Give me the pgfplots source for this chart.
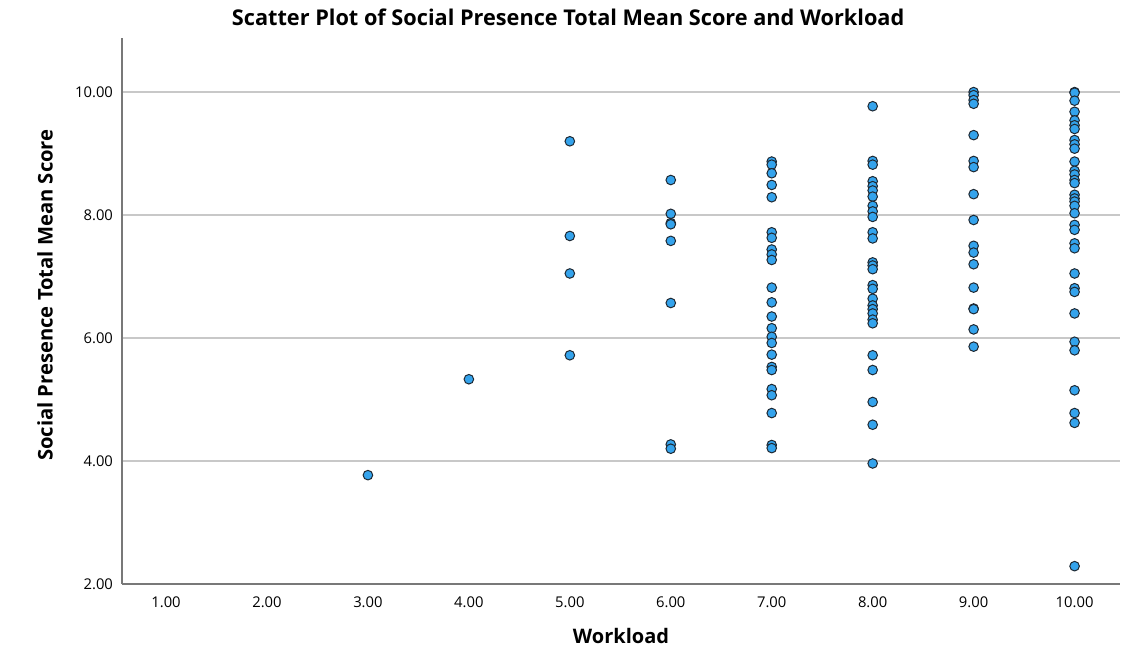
\documentclass[border=0pt]{standalone}
\usepackage{pgfplots}
\pgfplotsset{compat=1.18}
\usepackage{fontspec}
\setmainfont{Open Sans}
\definecolor{ptfill}{RGB}{52,163,236}
\definecolor{ptedge}{RGB}{30,40,50}
\definecolor{gridc}{RGB}{200,200,200}
\definecolor{axisc}{RGB}{120,120,120}

\begin{document}
\begin{tikzpicture}
\useasboundingbox (0,0) rectangle (560.5pt,328pt);
\begin{axis}[
  at={(61pt,36pt)}, anchor=south west,
  scale only axis, width=499pt, height=273pt,
  xmin=0.564, xmax=10.45, ymin=2, ymax=10.88,
  axis x line*=bottom, axis y line*=left,
  axis line style={axisc, line width=0.6pt, -},
  xtick={1,...,10}, ytick={2,4,6,8,10},
  major tick length=0pt,
  ymajorgrids, grid style={gridc, line width=0.6pt},
  xticklabel style={font=\fontsize{7.4}{8}\selectfont, yshift=-3pt},
  yticklabel style={font=\fontsize{7.4}{8}\selectfont, xshift=-1pt},
  /pgf/number format/assume math mode=true,
  /pgf/number format/.cd, fixed, fixed zerofill, precision=2, /pgfplots/.cd,
  title={Scatter Plot of Social Presence Total Mean Score and Workload},
  title style={font=\fontsize{10.85}{12}\selectfont\bfseries, at={(axis description cs:0.447,1.0366)}, anchor=center, yshift=-5.5pt},
  xlabel={Workload},
  xlabel style={font=\fontsize{10}{12}\selectfont\bfseries, at={(axis description cs:0.5,-0.0952)}, anchor=center},
  ylabel={Social Presence Total Mean Score},
  ylabel style={font=\fontsize{10.1}{12}\selectfont\bfseries, at={(axis description cs:-0.0772,0.529)}, anchor=center, rotate=0},
  clip=false,
]
\addplot[only marks, mark=*, mark size=2.4pt,
  mark options={fill=ptfill, draw=ptedge, line width=0.5pt}]
table {
x y
3 3.77
4 5.33
5 9.20
5 7.66
5 7.05
5 5.72
6 8.57
6 8.02
6 7.87
6 7.85
6 7.58
6 6.57
6 4.27
6 4.20
7 8.87
7 8.82
7 8.68
7 8.49
7 8.29
7 7.72
7 7.63
7 7.44
7 7.36
7 7.27
7 6.82
7 6.58
7 6.35
7 6.16
7 6.02
7 5.92
7 5.73
7 5.53
7 5.48
7 5.17
7 5.07
7 4.78
7 4.26
7 4.21
8 9.77
8 8.88
8 8.82
8 8.55
8 8.47
8 8.40
8 8.30
8 8.15
8 8.06
8 7.97
8 7.72
8 7.62
8 7.23
8 7.18
8 7.12
8 6.86
8 6.80
8 6.64
8 6.53
8 6.47
8 6.40
8 6.30
8 6.24
8 5.72
8 5.48
8 4.96
8 4.59
8 3.96
9 10.00
9 9.95
9 9.87
9 9.81
9 9.30
9 8.88
9 8.78
9 8.34
9 7.92
9 7.50
9 7.39
9 7.20
9 6.82
9 6.48
9 6.47
9 6.14
9 5.86
10 10.00
10 9.99
10 9.86
10 9.68
10 9.54
10 9.46
10 9.40
10 9.22
10 9.15
10 9.08
10 8.87
10 8.72
10 8.66
10 8.57
10 8.52
10 8.33
10 8.27
10 8.22
10 8.15
10 8.03
10 7.84
10 7.76
10 7.54
10 7.46
10 7.05
10 6.81
10 6.75
10 6.40
10 5.94
10 5.80
10 5.15
10 4.78
10 4.62
10 2.29
};
\end{axis}
\end{tikzpicture}
\end{document}
